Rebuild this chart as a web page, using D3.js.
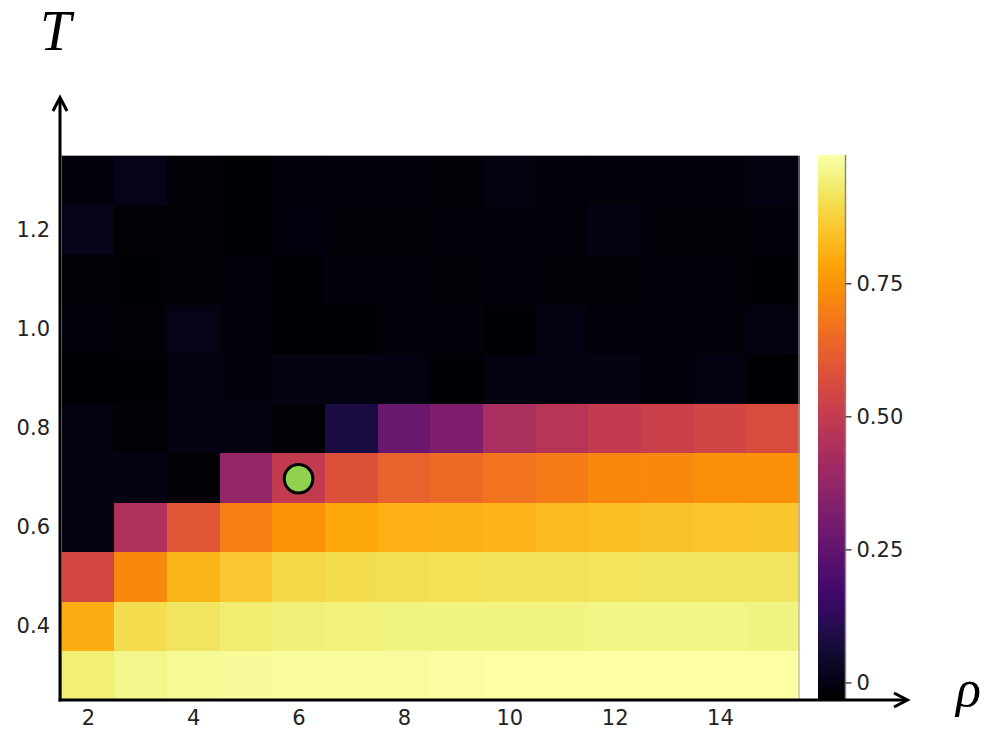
<!DOCTYPE html>
<html>
<head>
<meta charset="utf-8">
<script src="https://cdn.jsdelivr.net/npm/d3@7"></script>
<style>
  html, body { margin: 0; padding: 0; background: #fff; }
  svg { display: block; }
</style>
</head>
<body>
<svg id="chart" width="987" height="732"></svg>
<script>
// ---- data ----
const rhoValues = [2, 3, 4, 5, 6, 7, 8, 9, 10, 11, 12, 13, 14, 15];
const tempValues = [0.3, 0.4, 0.5, 0.6, 0.7, 0.8, 0.9, 1.0, 1.1, 1.2, 1.3];
// one array per temperature row, values across rho = 2..15
const rowT03 = [0.940, 0.960, 0.971, 0.976, 0.981, 0.981, 0.981, 0.986, 0.988, 0.989, 0.991, 0.990, 0.989, 0.988];
const rowT04 = [0.802, 0.899, 0.919, 0.935, 0.945, 0.950, 0.952, 0.953, 0.952, 0.953, 0.955, 0.955, 0.956, 0.954];
const rowT05 = [0.546, 0.725, 0.822, 0.858, 0.889, 0.899, 0.904, 0.909, 0.911, 0.914, 0.918, 0.919, 0.919, 0.919];
const rowT06 = [-0.002, 0.448, 0.597, 0.699, 0.745, 0.791, 0.807, 0.812, 0.817, 0.827, 0.837, 0.843, 0.848, 0.853];
const rowT07 = [-0.005, 0.003, -0.025, 0.377, 0.499, 0.581, 0.627, 0.648, 0.674, 0.694, 0.720, 0.725, 0.735, 0.740];
const rowT08 = [-0.002, -0.023, 0.003, -0.002, -0.021, 0.080, 0.274, 0.325, 0.438, 0.469, 0.499, 0.520, 0.540, 0.566];
const rowT09 = [-0.031, -0.028, -0.005, -0.013, 0.000, 0.001, -0.005, -0.026, -0.003, 0.005, 0.005, -0.013, -0.005, -0.033];
const rowT10 = [-0.013, -0.023, 0.008, -0.010, -0.027, -0.031, -0.016, -0.010, -0.026, -0.002, -0.015, -0.016, -0.015, -0.005];
const rowT11 = [-0.021, -0.028, -0.018, -0.016, -0.026, -0.013, -0.013, -0.018, -0.013, -0.024, -0.018, -0.013, -0.015, -0.026];
const rowT12 = [0.013, -0.023, -0.020, -0.028, -0.007, -0.018, -0.018, -0.015, -0.010, -0.015, 0.005, -0.020, -0.018, -0.015];
const rowT13 = [-0.013, 0.008, -0.018, -0.028, -0.013, -0.016, -0.016, -0.018, -0.005, -0.015, -0.010, -0.013, -0.010, -0.005];
const rows = [rowT03, rowT04, rowT05, rowT06, rowT07, rowT08, rowT09, rowT10, rowT11, rowT12, rowT13];

const xTicks = [2, 4, 6, 8, 10, 12, 14];
const yTicks = [0.4, 0.6, 0.8, 1.0, 1.2];
const cbTicks = [0, 0.25, 0.5, 0.75];
const cbTickLabels = ["0", "0.25", "0.50", "0.75"];
const marker = {rho: 6, T: 0.7};
const xLabel = "ρ";
const yLabel = "T";

// ---- build ----
const svg = d3.select("#chart");
const cells = [];
tempValues.forEach((t, i) => rhoValues.forEach((r, j) => cells.push({rho: r, T: t, v: rows[i][j]})));
const vmin = d3.min(cells, d => d.v), vmax = d3.max(cells, d => d.v);

const x = d3.scaleLinear().domain([1.5, 15.5]).range([61.5, 799]);
const y = d3.scaleLinear().domain([0.25, 1.35]).range([700, 155.5]);
const color = d3.scaleSequential(d3.interpolateInferno).domain([vmin, vmax]);

const font = "'DejaVu Sans', sans-serif";

// heatmap
svg.append("g").selectAll("rect").data(cells).join("rect")
  .attr("x", d => x(d.rho - 0.5))
  .attr("y", d => y(d.T + 0.05))
  .attr("width", d => x(d.rho + 0.5) - x(d.rho - 0.5) + 0.5)
  .attr("height", d => y(d.T - 0.05) - y(d.T + 0.05) + 0.5)
  .attr("fill", d => color(d.v))
  .attr("shape-rendering", "crispEdges");

// light frame
svg.append("rect")
  .attr("x", x(1.5)).attr("y", y(1.35))
  .attr("width", x(15.5) - x(1.5)).attr("height", y(0.25) - y(1.35))
  .attr("fill", "none").attr("stroke", "#aaa").attr("stroke-width", 1);

// colorbar
const cbX = 818, cbW = 27;
const cy = d3.scaleLinear().domain([vmin, vmax]).range([700, 155]);
const nSteps = 300;
const steps = d3.range(nSteps).map(i => vmin + (vmax - vmin) * i / nSteps);
const dv = (vmax - vmin) / nSteps;
svg.append("g").selectAll("rect").data(steps).join("rect")
  .attr("x", cbX).attr("width", cbW)
  .attr("y", d => cy(d + dv))
  .attr("height", d => cy(d) - cy(d + dv) + 0.6)
  .attr("fill", d => color(d + dv / 2))
  .attr("shape-rendering", "crispEdges");
svg.append("line")
  .attr("x1", cbX + cbW + 0.5).attr("x2", cbX + cbW + 0.5)
  .attr("y1", 155).attr("y2", 700)
  .attr("stroke", "#888").attr("stroke-width", 1.5);
const cbAxis = svg.append("g")
  .attr("transform", `translate(${cbX + cbW + 0.5},0)`)
  .call(d3.axisRight(cy).tickValues(cbTicks).tickSize(6).tickPadding(5)
    .tickFormat((d, i) => cbTickLabels[i]));
cbAxis.select(".domain").remove();
cbAxis.selectAll("line").attr("stroke", "#222").attr("stroke-width", 1.2);
cbAxis.selectAll("text").attr("font-family", font).attr("font-size", 21).attr("fill", "#222");

// x axis labels
const xa = svg.append("g").attr("transform", "translate(0,700)")
  .call(d3.axisBottom(x).tickValues(xTicks).tickSize(0).tickPadding(10));
xa.select(".domain").remove();
xa.selectAll("text").attr("font-family", font).attr("font-size", 21).attr("fill", "#222");

// y axis labels
const ya = svg.append("g").attr("transform", "translate(60,0)")
  .call(d3.axisLeft(y).tickValues(yTicks).tickSize(0).tickPadding(10).tickFormat(d3.format(".1f")));
ya.select(".domain").remove();
ya.selectAll("text").attr("font-family", font).attr("font-size", 21).attr("fill", "#222");

// arrows
const ax = svg.append("g").attr("stroke", "#000").attr("stroke-width", 3).attr("fill", "none")
  .attr("stroke-linecap", "butt");
ax.append("line").attr("x1", 60).attr("y1", 701.5).attr("x2", 60).attr("y2", 98);
ax.append("path").attr("d", "M53,111 L60,97.5 L67,111").attr("stroke-linejoin", "miter");
ax.append("line").attr("x1", 58.5).attr("y1", 700).attr("x2", 907).attr("y2", 700);
ax.append("path").attr("d", "M894,693 L907.5,700 L894,707").attr("stroke-linejoin", "miter");

// axis labels
svg.append("text").attr("x", 40).attr("y", 50)
  .attr("font-family", "'Liberation Serif', serif").attr("font-style", "italic")
  .attr("font-size", 56).attr("fill", "#000").text(yLabel);
svg.append("text").attr("x", 956).attr("y", 706)
  .attr("font-family", "'Liberation Serif', serif").attr("font-style", "italic")
  .attr("font-size", 52).attr("fill", "#000").text(xLabel);

// marker
svg.append("circle")
  .attr("cx", x(marker.rho)).attr("cy", y(marker.T) + 1.5)
  .attr("r", 14.3)
  .attr("fill", "#91d150").attr("stroke", "#000").attr("stroke-width", 3);
</script>
</body>
</html>
